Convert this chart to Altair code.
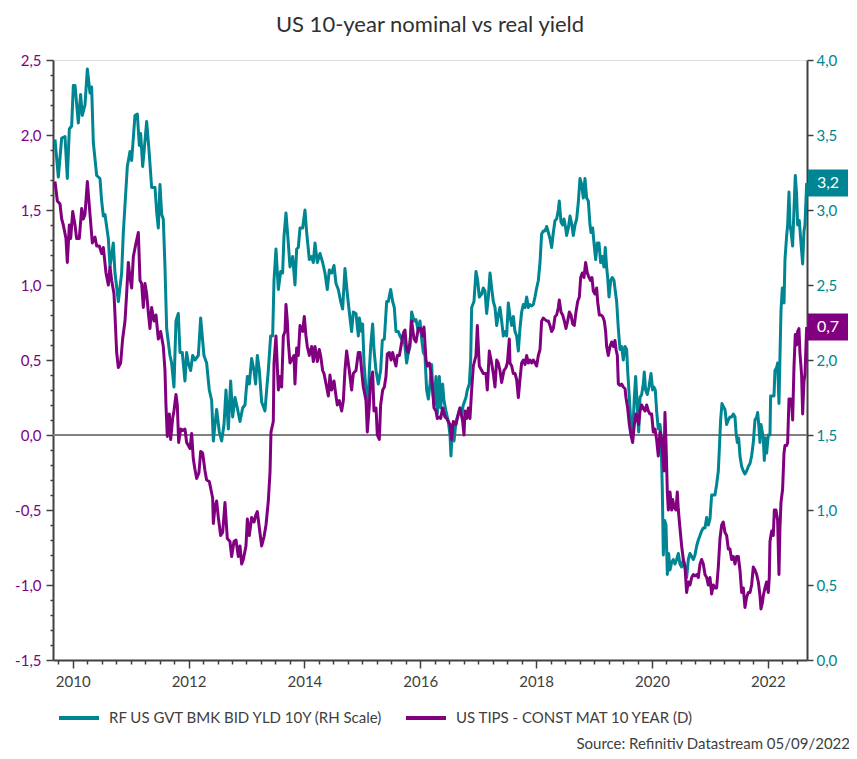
import altair as alt
import pandas as pd

TITLE = "US 10-year nominal vs real yield"
NOM = "RF US GVT BMK BID YLD 10Y (RH Scale)"
REAL = "US TIPS - CONST MAT 10 YEAR (D)"
SOURCE = "Source: Refinitiv Datastream 05/09/2022"

# (decimal year, yield %)
nominal_points = [
    (2009.694,3.47),(2009.752,3.22),(2009.810,3.48),(2009.867,3.49),(2009.907,3.21),(2009.942,3.54),(2009.982,3.56),
    (2010.011,3.83),(2010.040,3.83),(2010.097,3.58),(2010.137,3.77),(2010.166,3.63),(2010.212,3.70),(2010.253,3.94),
    (2010.299,3.78),(2010.327,3.82),(2010.356,3.45),(2010.414,3.23),(2010.471,3.21),(2010.500,3.06),(2010.529,2.96),
    (2010.557,2.97),(2010.615,2.81),(2010.644,2.62),(2010.701,2.78),(2010.730,2.58),(2010.788,2.39),(2010.845,2.58),
    (2010.874,2.85),(2010.943,3.29),(2010.989,3.39),(2011.018,3.33),(2011.075,3.63),(2011.116,3.64),(2011.150,3.43),
    (2011.173,3.51),(2011.208,3.29),(2011.248,3.46),(2011.277,3.59),(2011.317,3.40),(2011.363,3.15),(2011.421,3.15),
    (2011.449,2.99),(2011.478,2.88),(2011.507,3.17),(2011.536,2.97),(2011.564,2.94),(2011.593,2.62),(2011.622,2.21),
    (2011.679,2.03),(2011.708,1.98),(2011.748,1.82),(2011.783,2.26),(2011.823,2.31),(2011.852,2.05),(2011.892,2.05),
    (2011.938,1.86),(2011.967,2.05),(2011.996,1.98),(2012.036,1.93),(2012.071,2.03),(2012.111,2.00),(2012.169,2.03),
    (2012.209,2.28),(2012.266,2.03),(2012.312,1.98),(2012.358,1.80),
    (2012.399,1.73),(2012.428,1.46),(2012.456,1.57),(2012.485,1.67),(2012.531,1.52),(2012.571,1.46),(2012.612,1.57),
    (2012.646,1.80),(2012.687,1.54),(2012.727,1.86),(2012.761,1.62),(2012.802,1.75),(2012.842,1.68),(2012.888,1.59),
    (2012.934,1.68),(2012.974,1.70),(2013.015,1.89),(2013.049,1.84),(2013.089,2.01),(2013.130,1.93),(2013.158,1.84),
    (2013.187,2.03),(2013.222,1.93),(2013.262,1.72),(2013.319,1.66),(2013.348,1.80),(2013.377,1.93),(2013.417,2.16),
    (2013.452,2.16),(2013.475,2.53),(2013.509,2.74),(2013.550,2.47),(2013.590,2.59),(2013.624,2.58),(2013.647,2.82),
    (2013.682,2.98),(2013.722,2.78),(2013.751,2.62),(2013.797,2.69),(2013.837,2.50),(2013.866,2.74),(2013.895,2.75),
    (2013.924,2.88),(2013.970,2.88),(2014.010,3.00),(2014.039,2.85),(2014.085,2.67),(2014.125,2.69),(2014.154,2.65),
    (2014.183,2.78),(2014.223,2.65),(2014.269,2.71),(2014.315,2.65),(2014.355,2.58),(2014.395,2.47),(2014.430,2.60),
    (2014.470,2.58),(2014.511,2.63),(2014.545,2.51),(2014.585,2.47),(2014.626,2.39),(2014.660,2.34),(2014.700,2.61),
    (2014.741,2.44),(2014.775,2.32),(2014.815,2.19),(2014.844,2.32),(2014.890,2.31),(2014.931,2.16),
    (2014.948,2.28),(2014.988,2.19),(2015.005,2.24),(2015.029,1.98),(2015.063,1.80),(2015.092,1.64),(2015.121,1.93),
    (2015.144,2.09),(2015.178,2.24),(2015.201,2.07),(2015.236,1.93),(2015.276,1.84),(2015.316,1.93),(2015.345,2.13),
    (2015.380,2.14),(2015.420,2.39),(2015.449,2.39),(2015.489,2.47),(2015.523,2.39),(2015.552,2.35),(2015.581,2.19),
    (2015.621,2.19),(2015.650,2.16),(2015.679,2.14),(2015.707,2.16),(2015.736,2.09),(2015.765,1.98),(2015.794,2.05),
    (2015.823,2.09),(2015.851,2.32),(2015.892,2.26),(2015.926,2.27),(2015.966,2.19),(2015.995,2.26),(2016.024,2.14),
    (2016.053,2.05),(2016.081,2.03),(2016.110,1.80),(2016.139,1.74),(2016.168,1.84),(2016.197,1.97),(2016.214,1.80),
    (2016.237,1.70),(2016.271,1.89),(2016.294,1.64),(2016.329,1.89),(2016.352,1.68),(2016.386,1.84),(2016.409,1.73),
    (2016.444,1.66),(2016.484,1.59),(2016.513,1.50),(2016.530,1.36),(2016.559,1.57),(2016.582,1.46),(2016.617,1.59),
    (2016.657,1.64),(2016.686,1.68),(2016.714,1.64),(2016.743,1.70),(2016.789,1.75),(2016.812,1.80),(2016.847,1.84),
    (2016.870,2.00),(2016.887,2.35),(2016.927,2.39),(2016.962,2.59),(2016.991,2.53),(2017.019,2.42),(2017.060,2.44),
    (2017.088,2.48),(2017.117,2.46),(2017.146,2.31),(2017.175,2.42),(2017.204,2.58),(2017.232,2.48),(2017.261,2.39),
    (2017.290,2.35),(2017.319,2.23),(2017.347,2.30),(2017.376,2.35),
    (2017.405,2.26),(2017.434,2.16),(2017.463,2.19),(2017.491,2.16),(2017.520,2.38),(2017.549,2.29),(2017.578,2.23),
    (2017.606,2.29),(2017.635,2.19),(2017.664,2.16),(2017.693,2.06),(2017.721,2.21),(2017.750,2.32),(2017.779,2.37),
    (2017.808,2.35),(2017.837,2.42),(2017.865,2.35),(2017.894,2.37),(2017.923,2.36),(2017.952,2.37),(2017.980,2.42),
    (2018.009,2.48),(2018.038,2.53),(2018.067,2.65),(2018.095,2.84),(2018.124,2.86),(2018.153,2.86),(2018.182,2.89),
    (2018.211,2.85),(2018.239,2.81),(2018.268,2.75),(2018.297,2.85),(2018.326,2.93),(2018.354,2.94),(2018.383,3.00),
    (2018.400,3.06),(2018.429,2.92),(2018.458,2.90),(2018.481,2.94),(2018.510,2.88),(2018.527,2.83),(2018.556,2.88),
    (2018.585,2.96),(2018.613,2.91),(2018.642,2.83),(2018.671,2.90),(2018.700,2.94),(2018.728,3.05),(2018.757,3.21),
    (2018.786,3.17),(2018.815,3.08),(2018.843,3.21),(2018.872,3.08),(2018.901,3.06),(2018.930,2.90),(2018.947,2.85),
    (2018.976,2.88),(2018.999,2.78),(2019.028,2.67),(2019.056,2.78),(2019.085,2.78),(2019.114,2.65),(2019.143,2.69),
    (2019.171,2.62),(2019.194,2.75),(2019.217,2.62),(2019.235,2.55),(2019.258,2.42),(2019.287,2.53),(2019.315,2.55),
    (2019.344,2.53),(2019.373,2.44),(2019.390,2.39),(2019.419,2.21),(2019.448,2.07),(2019.476,2.09),(2019.505,2.00),
    (2019.534,2.09),(2019.563,2.07),(2019.580,1.93),(2019.609,1.75),(2019.637,1.57),(2019.666,1.50),(2019.695,1.75),
    (2019.718,1.89),(2019.747,1.68),(2019.770,1.52),(2019.793,1.75),(2019.822,1.77),(2019.850,1.84),(2019.867,1.92),
    (2019.890,1.80),(2019.919,1.77),(2019.948,1.82),(2019.983,1.91),(2020.011,1.80),(2020.034,1.82),(2020.057,1.80),
    (2020.080,1.66),(2020.109,1.54),
    (2020.138,1.57),(2020.155,1.50),(2020.178,1.14),(2020.196,0.70),(2020.219,0.93),(2020.242,0.90),(2020.265,0.57),
    (2020.288,0.71),(2020.311,0.60),(2020.340,0.65),(2020.368,0.67),(2020.397,0.64),(2020.426,0.67),(2020.455,0.71),
    (2020.483,0.64),(2020.512,0.62),(2020.541,0.67),(2020.570,0.62),(2020.598,0.55),(2020.627,0.67),(2020.656,0.71),
    (2020.685,0.69),(2020.714,0.67),(2020.742,0.70),(2020.771,0.76),(2020.800,0.80),(2020.829,0.83),(2020.857,0.86),
    (2020.886,0.88),(2020.915,0.88),(2020.944,0.95),(2020.972,0.90),(2021.001,0.94),(2021.030,1.10),(2021.059,1.10),
    (2021.087,1.10),(2021.116,1.17),(2021.145,1.26),(2021.162,1.40),(2021.185,1.60),(2021.208,1.71),(2021.231,1.69),
    (2021.260,1.67),(2021.289,1.57),(2021.318,1.60),(2021.346,1.62),(2021.375,1.62),(2021.404,1.64),(2021.433,1.62),
    (2021.450,1.52),(2021.473,1.45),(2021.496,1.48),(2021.519,1.36),(2021.548,1.29),(2021.577,1.26),(2021.605,1.24),
    (2021.634,1.26),(2021.663,1.29),(2021.692,1.31),(2021.720,1.36),(2021.749,1.45),(2021.778,1.60),(2021.807,1.62),
    (2021.824,1.65),(2021.847,1.55),(2021.864,1.45),(2021.881,1.57),(2021.905,1.52),(2021.922,1.48),(2021.939,1.33),
    (2021.962,1.48),(2021.979,1.38),(2022.008,1.50),(2022.037,1.50),(2022.048,1.76),(2022.083,1.76),(2022.106,1.76),
    (2022.123,1.93),(2022.152,1.95),(2022.169,1.98),(2022.192,1.71),(2022.209,2.02),(2022.227,2.33),(2022.250,2.48),
    (2022.267,2.48),(2022.279,2.38),(2022.296,2.67),(2022.325,2.83),(2022.342,2.90),(2022.365,3.12),(2022.382,2.90),
    (2022.399,2.86),(2022.428,2.76),(2022.451,3.00),(2022.474,3.23),(2022.497,3.10),(2022.514,2.90),(2022.543,2.93),
    (2022.566,2.81),(2022.601,2.64),(2022.624,2.86),(2022.641,2.90),(2022.670,3.18),
]

real_points = [
    (2009.694,1.69),(2009.735,1.56),(2009.781,1.54),(2009.810,1.44),(2009.838,1.40),(2009.884,1.31),(2009.907,1.15),
    (2009.942,1.40),(2009.965,1.31),(2010.000,1.49),(2010.040,1.40),(2010.068,1.31),(2010.114,1.31),(2010.155,1.51),
    (2010.183,1.44),(2010.212,1.47),(2010.253,1.69),(2010.299,1.47),(2010.339,1.28),(2010.385,1.32),(2010.414,1.26),
    (2010.460,1.26),(2010.500,1.21),(2010.529,1.25),(2010.575,1.08),(2010.615,1.00),(2010.644,1.12),(2010.673,1.03),
    (2010.713,0.94),(2010.730,0.80),(2010.759,0.55),(2010.788,0.45),(2010.828,0.48),(2010.862,0.64),(2010.903,0.76),
    (2010.931,0.94),(2010.960,1.15),(2010.989,1.05),(2011.018,0.98),(2011.047,1.19),(2011.093,1.28),(2011.133,1.35),
    (2011.162,1.03),(2011.190,1.01),(2011.219,0.85),(2011.248,1.01),(2011.277,0.94),(2011.305,0.82),(2011.334,0.71),
    (2011.363,0.85),(2011.403,0.76),(2011.438,0.80),(2011.478,0.64),(2011.518,0.69),(2011.564,0.59),(2011.593,0.43),
    (2011.610,0.20),(2011.633,-0.01),(2011.668,0.14),(2011.691,-0.03),(2011.725,0.11),(2011.748,0.16),(2011.783,0.27),
    (2011.806,0.20),(2011.829,-0.05),(2011.864,0.04),(2011.898,0.03),(2011.938,0.04),(2011.967,-0.05),(2011.996,-0.07),
    (2012.025,-0.09),(2012.054,0.01),(2012.082,-0.16),(2012.111,-0.23),(2012.140,-0.29),(2012.180,-0.25),(2012.209,-0.11),
    (2012.243,-0.12),(2012.284,-0.24),(2012.312,-0.30),(2012.358,-0.31),
    (2012.416,-0.42),(2012.428,-0.59),(2012.456,-0.48),(2012.485,-0.44),(2012.514,-0.55),(2012.554,-0.67),(2012.589,-0.65),
    (2012.629,-0.45),(2012.669,-0.69),(2012.715,-0.71),(2012.744,-0.81),(2012.784,-0.71),(2012.819,-0.70),(2012.859,-0.81),
    (2012.888,-0.74),(2012.917,-0.86),(2012.945,-0.83),(2012.991,-0.74),(2013.015,-0.56),(2013.049,-0.67),(2013.089,-0.55),
    (2013.130,-0.58),(2013.164,-0.53),(2013.187,-0.51),(2013.222,-0.62),(2013.262,-0.74),(2013.302,-0.68),(2013.337,-0.60),
    (2013.377,-0.44),(2013.406,-0.25),(2013.423,0.02),(2013.463,0.09),(2013.475,0.48),(2013.509,0.66),(2013.550,0.30),
    (2013.578,0.39),(2013.607,0.32),(2013.636,0.66),(2013.665,0.69),(2013.682,0.87),(2013.705,0.76),(2013.722,0.62),
    (2013.751,0.48),(2013.780,0.50),(2013.820,0.53),(2013.837,0.34),(2013.866,0.58),(2013.895,0.53),(2013.924,0.73),
    (2013.970,0.69),(2013.998,0.79),(2014.027,0.66),(2014.050,0.59),(2014.085,0.53),(2014.125,0.59),(2014.154,0.49),
    (2014.183,0.59),(2014.223,0.49),(2014.257,0.57),(2014.280,0.53),(2014.315,0.43),(2014.338,0.41),(2014.384,0.32),
    (2014.413,0.26),(2014.441,0.40),(2014.470,0.30),(2014.511,0.36),(2014.545,0.26),(2014.568,0.20),(2014.603,0.23),
    (2014.643,0.16),(2014.672,0.23),(2014.700,0.43),(2014.729,0.56),(2014.775,0.43),(2014.815,0.30),(2014.844,0.41),
    (2014.890,0.43),(2014.931,0.55),
    (2014.960,0.55),(2014.988,0.43),(2015.017,0.32),(2015.063,0.23),(2015.086,0.02),(2015.121,0.20),(2015.144,0.36),
    (2015.178,0.42),(2015.201,0.16),(2015.236,0.18),(2015.259,0.00),(2015.293,-0.03),(2015.316,0.20),(2015.351,0.30),
    (2015.380,0.32),(2015.408,0.39),(2015.431,0.54),(2015.466,0.55),(2015.495,0.50),(2015.523,0.55),(2015.552,0.50),
    (2015.581,0.46),(2015.604,0.53),(2015.639,0.53),(2015.667,0.59),(2015.696,0.66),(2015.719,0.69),(2015.736,0.70),
    (2015.765,0.57),(2015.794,0.55),(2015.823,0.62),(2015.851,0.76),(2015.892,0.64),(2015.926,0.62),(2015.966,0.71),
    (2016.007,0.71),(2016.041,0.66),(2016.064,0.72),(2016.099,0.50),(2016.122,0.46),(2016.156,0.48),(2016.179,0.43),
    (2016.214,0.30),(2016.237,0.18),(2016.271,0.16),(2016.294,0.11),(2016.329,0.12),(2016.352,0.11),(2016.386,0.18),
    (2016.427,0.12),(2016.456,0.11),(2016.484,0.09),(2016.513,0.07),(2016.542,-0.03),(2016.571,0.09),(2016.617,0.07),
    (2016.657,0.14),(2016.686,0.18),(2016.732,0.09),(2016.755,0.00),(2016.772,0.16),(2016.801,0.11),(2016.830,0.18),
    (2016.858,0.11),(2016.887,0.30),(2016.916,0.46),(2016.962,0.53),(2016.985,0.73),(2017.019,0.46),(2017.060,0.43),
    (2017.088,0.41),(2017.134,0.41),(2017.157,0.30),(2017.192,0.56),(2017.232,0.48),(2017.261,0.41),(2017.290,0.32),
    (2017.319,0.50),(2017.347,0.48),(2017.376,0.43),(2017.405,0.35),(2017.445,0.43),(2017.480,0.45),(2017.503,0.48),
    (2017.537,0.64),
    (2017.549,0.48),(2017.578,0.46),(2017.606,0.41),(2017.635,0.41),(2017.664,0.37),(2017.693,0.25),(2017.721,0.37),
    (2017.750,0.48),(2017.779,0.50),(2017.808,0.47),(2017.837,0.53),(2017.865,0.48),(2017.894,0.50),(2017.923,0.48),
    (2017.952,0.50),(2017.980,0.48),(2018.009,0.46),(2018.038,0.53),(2018.067,0.57),(2018.095,0.76),(2018.124,0.78),
    (2018.153,0.77),(2018.182,0.76),(2018.211,0.76),(2018.239,0.73),(2018.268,0.69),(2018.297,0.71),(2018.326,0.79),
    (2018.354,0.80),(2018.383,0.85),(2018.400,0.90),(2018.429,0.82),(2018.458,0.80),(2018.487,0.76),(2018.515,0.71),
    (2018.544,0.76),(2018.573,0.82),(2018.602,0.80),(2018.631,0.74),(2018.659,0.73),(2018.688,0.82),(2018.717,0.89),
    (2018.746,0.92),(2018.769,1.05),(2018.797,1.08),(2018.826,1.05),(2018.855,1.15),(2018.884,1.08),(2018.913,1.05),
    (2018.941,1.03),(2018.964,1.05),(2018.987,0.96),(2019.016,0.94),(2019.045,0.98),(2019.062,0.89),(2019.091,0.80),
    (2019.120,0.80),(2019.148,0.79),(2019.177,0.76),(2019.200,0.69),(2019.217,0.59),(2019.246,0.53),(2019.275,0.59),
    (2019.304,0.62),(2019.333,0.59),(2019.361,0.63),(2019.379,0.57),(2019.402,0.53),(2019.419,0.34),(2019.448,0.33),
    (2019.476,0.34),(2019.505,0.32),(2019.534,0.31),(2019.551,0.25),(2019.580,0.18),(2019.609,0.07),(2019.637,0.00),
    (2019.666,-0.05),(2019.695,0.07),(2019.724,0.14),(2019.747,0.11),(2019.770,0.07),(2019.793,0.16),(2019.822,0.20),
    (2019.850,0.18),(2019.879,0.16),(2019.908,0.20),(2019.937,0.16),(2019.965,0.14),(2019.994,0.14),(2020.023,0.02),
    (2020.052,0.04),(2020.080,-0.03),(2020.109,-0.14),
    (2020.138,0.02),(2020.167,-0.02),(2020.184,-0.12),(2020.207,-0.24),(2020.224,0.15),(2020.242,-0.05),(2020.265,-0.38),
    (2020.282,-0.50),(2020.311,-0.38),(2020.340,-0.50),(2020.357,-0.43),(2020.380,-0.48),(2020.414,-0.50),(2020.437,-0.38),
    (2020.455,-0.50),(2020.483,-0.62),(2020.512,-0.74),(2020.541,-0.83),(2020.570,-0.88),(2020.598,-1.05),(2020.627,-0.98),
    (2020.656,-1.00),(2020.685,-0.95),(2020.714,-0.93),(2020.742,-0.94),(2020.771,-0.93),(2020.800,-0.95),(2020.829,-0.86),
    (2020.857,-0.83),(2020.886,-0.86),(2020.915,-0.93),(2020.944,-0.95),(2020.972,-1.00),(2021.001,-0.95),(2021.030,-1.06),
    (2021.059,-1.00),(2021.087,-1.02),(2021.116,-1.02),(2021.145,-0.88),(2021.174,-0.69),(2021.203,-0.60),(2021.231,-0.58),
    (2021.260,-0.65),(2021.289,-0.67),(2021.318,-0.76),(2021.346,-0.76),(2021.375,-0.83),(2021.404,-0.81),(2021.433,-0.86),
    (2021.461,-0.81),(2021.490,-0.81),(2021.519,-0.90),(2021.548,-1.05),(2021.577,-1.02),(2021.605,-1.15),(2021.634,-1.08),
    (2021.663,-1.05),(2021.692,-1.05),(2021.720,-1.00),(2021.749,-0.88),(2021.778,-0.90),(2021.807,-0.93),(2021.836,-0.98),
    (2021.864,-1.07),(2021.881,-1.16),(2021.905,-1.12),(2021.922,-1.07),(2021.950,-1.02),(2021.979,-0.98),(2022.008,-1.05),
    (2022.025,-0.95),(2022.037,-0.71),(2022.066,-0.64),(2022.094,-0.67),(2022.112,-0.50),(2022.140,-0.50),(2022.169,-0.57),
    (2022.192,-0.93),(2022.209,-0.62),(2022.227,-0.45),(2022.255,-0.36),(2022.279,-0.12),(2022.296,-0.07),(2022.325,-0.07),
    (2022.342,-0.05),(2022.365,0.24),(2022.394,0.24),(2022.411,0.21),(2022.428,0.10),(2022.451,0.45),(2022.474,0.67),
    (2022.497,0.60),(2022.514,0.69),(2022.537,0.71),(2022.554,0.55),(2022.583,0.40),(2022.601,0.14),(2022.624,0.36),
    (2022.641,0.40),(2022.670,0.72),
]

x_domain = [2009.660, 2022.676]
left_domain = [-1.5, 2.5]
right_domain = [0.0, 4.0]
x_tick_values = [2009.75 + 0.25 * i for i in range(52)]
left_tick_values = [round(-1.5 + 0.1 * i, 1) for i in range(41)]
right_tick_values = [0.5 * i for i in range(9)]

TEAL = "#008593"
PURPLE = "#80007f"
AXIS = "#404040"
FONT = "Lato"

nom = pd.DataFrame(nominal_points, columns=["t", "v"])
nom["s"] = NOM
real = pd.DataFrame(real_points, columns=["t", "v"])
real["s"] = REAL

MINUS = "\u2212"
fmt = "replace(replace(format(datum.value, '.1f'), '.', ','), '" + MINUS + "', '-')"
half_test = "abs(datum.value * 2 - round(datum.value * 2)) < 0.01"

x_axis = alt.Axis(
    values=x_tick_values,
    labelExpr="datum.value % 2 == 0 ? format(datum.value, 'd') : ''",
    tickSize={"condition": {"test": "datum.value % 2 == 0", "value": 8}, "value": 4},
    labelOverlap=False, labelFlush=False, grid=False, title=None,
    labelFont=FONT, labelFontSize=15, labelColor=AXIS, labelPadding=6,
    domainColor=AXIS, domainWidth=2, tickColor=AXIS, tickWidth=1.5,
)
left_axis = alt.Axis(
    orient="left", values=left_tick_values,
    labelExpr=half_test + " ? " + fmt + " : ''",
    tickSize={"condition": {"test": half_test, "value": 7}, "value": 3},
    labelOverlap=False, labelFlush=False, grid=False, title=None,
    labelFont=FONT, labelFontSize=15, labelColor=PURPLE, labelPadding=5,
    domainColor=AXIS, domainWidth=2, tickColor=AXIS, tickWidth=1.5,
)
right_axis = alt.Axis(
    orient="right", values=right_tick_values, labelExpr=fmt, tickSize=6,
    labelOverlap=False, labelFlush=False, grid=False, title=None,
    labelFont=FONT, labelFontSize=15, labelColor=TEAL, labelPadding=3,
    domainColor=AXIS, domainWidth=2, tickColor=AXIS, tickWidth=1.5,
)

x_enc = alt.X("t:Q", scale=alt.Scale(domain=x_domain, nice=False, zero=False), axis=x_axis)
left_scale = alt.Scale(domain=left_domain, nice=False, zero=False)
right_scale = alt.Scale(domain=right_domain, nice=False, zero=False)

legend = alt.Legend(
    title=None, orient="none", legendX=4, legendY=636, direction="horizontal",
    symbolType="stroke", symbolStrokeWidth=4, symbolSize=1600,
    labelFont=FONT, labelFontSize=15, labelColor=AXIS, labelLimit=500,
    columnPadding=14, labelOffset=8, padding=0,
)
color_enc = alt.Color("s:N", scale=alt.Scale(domain=[NOM, REAL], range=[TEAL, PURPLE]), legend=legend)

zero_line = alt.Chart(pd.DataFrame({"v": [0.0]})).mark_rule(color="#808080", strokeWidth=2).encode(
    y=alt.Y("v:Q", scale=left_scale, axis=None)
)
teal_line = alt.Chart(nom).mark_line(strokeWidth=3, strokeJoin="round").encode(
    x=x_enc, y=alt.Y("v:Q", scale=right_scale, axis=right_axis), color=color_enc
)
purple_line = alt.Chart(real).mark_line(strokeWidth=3, strokeJoin="round").encode(
    x=x_enc, y=alt.Y("v:Q", scale=left_scale, axis=left_axis), color=color_enc
)

BOX = "M-1,-0.68L1,-0.68L1,0.68L-1,0.68Z"
label_calc = "replace(format(datum.v, '.1f'), '.', ',')"
nom_last = nom.tail(1)[["t", "v"]]
real_last = real.tail(1)[["t", "v"]]

teal_box = alt.Chart(nom_last).mark_point(shape=BOX, filled=True, size=1600, opacity=1, color=TEAL).encode(
    x=alt.value(775), y=alt.Y("v:Q", scale=right_scale, axis=None)
)
teal_txt = alt.Chart(nom_last).transform_calculate(lab=label_calc).mark_text(
    color="white", font=FONT, fontSize=16, baseline="middle", align="center"
).encode(x=alt.value(775), y=alt.Y("v:Q", scale=right_scale, axis=None), text="lab:N")
purple_box = alt.Chart(real_last).mark_point(shape=BOX, filled=True, size=1600, opacity=1, color=PURPLE).encode(
    x=alt.value(775), y=alt.Y("v:Q", scale=left_scale, axis=None)
)
purple_txt = alt.Chart(real_last).transform_calculate(lab=label_calc).mark_text(
    color="white", font=FONT, fontSize=16, baseline="middle", align="center"
).encode(x=alt.value(775), y=alt.Y("v:Q", scale=left_scale, axis=None), text="lab:N")

source = alt.Chart(pd.DataFrame({"a": [0]})).mark_text(
    align="right", baseline="alphabetic", font=FONT, fontSize=15, color=AXIS
).encode(x=alt.value(797), y=alt.value(689), text=alt.value(SOURCE))

chart = alt.layer(
    zero_line, teal_line, purple_line, teal_box, teal_txt, purple_box, purple_txt, source
).resolve_scale(y="independent").properties(
    width=754, height=600,
    autosize=alt.AutoSizeParams(type="none"),
    padding={"left": 45, "top": 52, "right": 42, "bottom": 95},
    title=alt.TitleParams(TITLE, font=FONT, fontSize=22, fontWeight="normal", color="#303030",
                          anchor="middle", offset=16),
).configure_view(stroke=None).configure(background="white")

chart.save("out.html", embed_options={"renderer": "svg", "actions": False})
